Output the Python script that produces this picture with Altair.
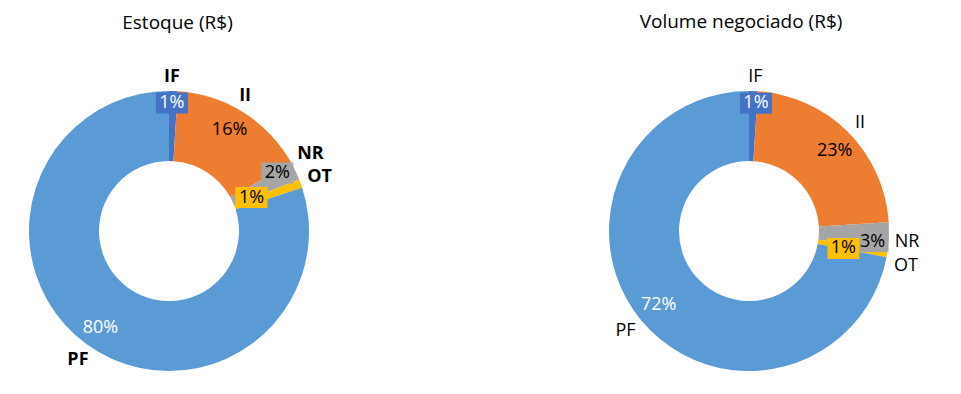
import math
import altair as alt
import pandas as pd

# ---- data ----
categories = ["IF", "II", "NR", "OT", "PF"]
estoque = [1, 16, 2, 1, 80]
volume = [1, 23, 3, 1, 72]
pct_labels_estoque = ["1%", "16%", "2%", "1%", "80%"]
pct_labels_volume = ["1%", "23%", "3%", "1%", "72%"]
titles = ["Estoque (R$)", "Volume negociado (R$)"]

# ---- style ----
colors = ["#4472C4", "#ED7D31", "#A5A5A5", "#FFC000", "#5B9BD5"]
pct_text_colors = ["#FFFFFF", "#000000", "#000000", "#000000", "#FFFFFF"]
boxed = [True, False, True, True, False]
FONT = "Open Sans"
FS = 18
FS_TITLE = 19
W, H = 945, 378
R_OUT, R_IN = 140, 70
BOX_W, BOX_H = 32, 21

panels = [
    dict(values=estoque, labels=pct_labels_estoque, title=titles[0],
         cx=161, cy=223, title_x=169.5, title_y=15.0, bold=True,
         pct_r=[128, 118, 123, 89, 119], pct_dt=[-0.5, -1.5, -3.0, -2.3, -0.8],
         cat_r=[154, 155, 161, 160, 158], cat_dt=[-0.7, -3.0, -3.3, 0.0, -0.8]),
    dict(values=volume, labels=pct_labels_volume, title=titles[1],
         cx=741, cy=223, title_x=733, title_y=14.0, bold=False,
         pct_r=[128, 117, 124, 96, 117], pct_dt=[1.3, 2.1, 3.1, 1.5, 0.1],
         cat_r=[154, 155, 158.5, 161, 158.6], cat_dt=[0.6, 0.7, 2.2, 3.7, 0.7]),
]


def polar(cx, cy, r, deg):
    a = math.radians(deg)
    return cx + r * math.sin(a), cy - r * math.cos(a)


layers = []
for p in panels:
    vals = p["values"]
    total = float(sum(vals))
    rows, pct_rows, cat_rows, box_rows = [], [], [], []
    cum = 0.0
    for i, (c, v) in enumerate(zip(categories, vals)):
        mid = (cum + v / 2.0) / total * 360.0
        cum += v
        rows.append(dict(idx=i, cat=c, value=v))
        px, py = polar(p["cx"], p["cy"], p["pct_r"][i], mid + p["pct_dt"][i])
        pct_rows.append(dict(cat=c, label=p["labels"][i], tx=px, ty=py,
                             tcolor=pct_text_colors[i]))
        if boxed[i]:
            box_rows.append(dict(cat=c, x1=px - BOX_W / 2, x2=px + BOX_W / 2,
                                 y1=py - BOX_H / 2, y2=py + BOX_H / 2,
                                 fill=colors[i]))
        qx, qy = polar(p["cx"], p["cy"], p["cat_r"][i], mid + p["cat_dt"][i])
        cat_rows.append(dict(cat=c, tx=qx, ty=qy))

    df = pd.DataFrame(rows)
    arcs = alt.Chart(df).mark_arc(innerRadius=R_IN, outerRadius=R_OUT).encode(
        theta=alt.Theta("value:Q", stack=True),
        color=alt.Color("cat:N", scale=alt.Scale(domain=categories, range=colors), legend=None),
        order=alt.Order("idx:Q"),
        x=alt.value(p["cx"]),
        y=alt.value(p["cy"]),
    )
    boxes = alt.Chart(pd.DataFrame(box_rows)).mark_rect().encode(
        x=alt.X("x1:Q", scale=None), x2="x2:Q",
        y=alt.Y("y1:Q", scale=None), y2="y2:Q",
        fill=alt.Fill("fill:N", scale=None),
    )
    pct = alt.Chart(pd.DataFrame(pct_rows)).mark_text(
        font=FONT, fontSize=FS, baseline="middle", align="center"
    ).encode(
        x=alt.X("tx:Q", scale=None), y=alt.Y("ty:Q", scale=None),
        text="label:N", fill=alt.Fill("tcolor:N", scale=None),
    )
    cats = alt.Chart(pd.DataFrame(cat_rows)).mark_text(
        font=FONT, fontSize=FS, baseline="middle", align="center", color="#000000",
        fontWeight="bold" if p["bold"] else "normal",
    ).encode(
        x=alt.X("tx:Q", scale=None), y=alt.Y("ty:Q", scale=None), text="cat:N",
    )
    ttl = alt.Chart(pd.DataFrame([dict(t=p["title"], tx=p["title_x"], ty=p["title_y"])])).mark_text(
        font=FONT, fontSize=FS_TITLE, baseline="middle", align="center", color="#000000",
    ).encode(
        x=alt.X("tx:Q", scale=None), y=alt.Y("ty:Q", scale=None), text="t:N",
    )
    layers += [arcs, boxes, pct, cats, ttl]

chart = alt.layer(*layers).resolve_scale(theta="independent").properties(
    width=W, height=H, padding=0, autosize=alt.AutoSizeParams(type="none"),
).configure_view(stroke=None)

chart.save("out.html", embed_options={"renderer": "svg", "actions": False})
